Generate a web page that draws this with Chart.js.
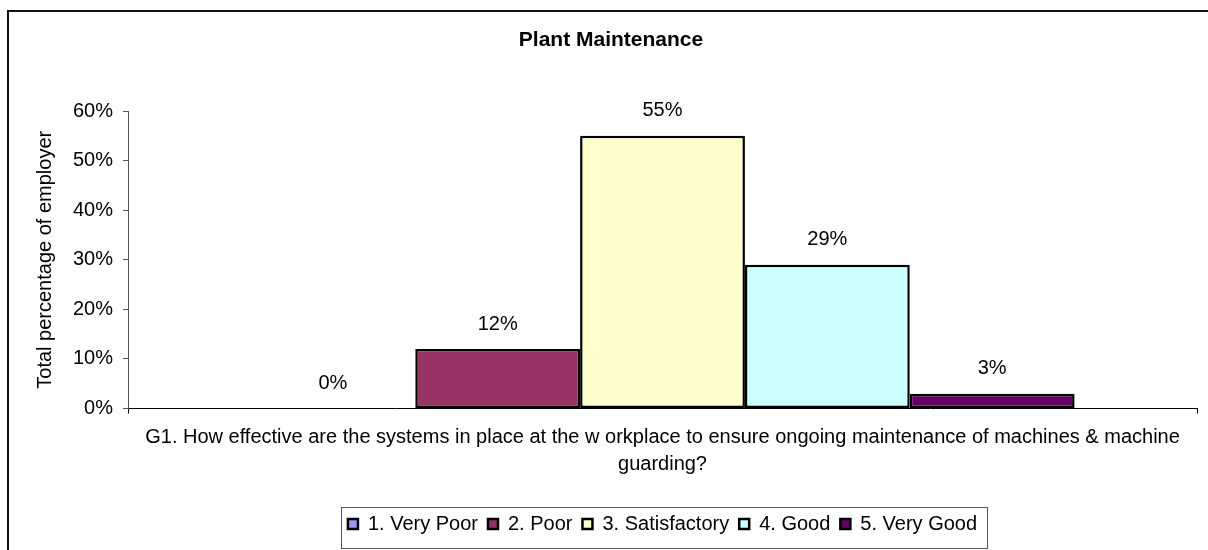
<!DOCTYPE html>
<html>
<head>
<meta charset="utf-8">
<script src="https://cdn.jsdelivr.net/npm/chart.js@4.4.1/dist/chart.umd.min.js"></script>
<style>
	body { margin: 0; overflow: hidden; background: #fff; }
	#wrap { position: relative; width: 1208px; height: 550px; overflow: hidden; }
	#frame { position: absolute; left: 7px; top: 10px; width: 1400px; height: 700px; border-left: 2px solid #111; border-top: 2px solid #111; }
	#chart { position: absolute; left: 0; top: 0; }
</style>
</head>
<body>
<div id="wrap">
	<div id="frame"></div>
	<canvas id="chart" width="1208" height="550"></canvas>
</div>
<script>
var categories = [
	['G1. How effective are the systems in place at the w orkplace to ensure ongoing maintenance of machines & machine', 'guarding?']
];
var seriesNames = ['1. Very Poor', '2. Poor', '3. Satisfactory', '4. Good', '5. Very Good'];
var seriesValues = [0, 12, 55, 29, 3];
var seriesColors = ['#9999FF', '#993366', '#FFFFCC', '#CCFFFF', '#660066'];
var yTicks = [0, 10, 20, 30, 40, 50, 60];

var font = 'Liberation Sans, Arial, sans-serif';
Chart.defaults.font.family = font;
Chart.defaults.color = '#000';

var datasets = seriesNames.map(function (name, i) {
	return {
		label: name,
		data: [seriesValues[i]],
		backgroundColor: seriesColors[i],
		borderColor: '#000',
		borderWidth: 2.5,
		borderSkipped: false
	};
});

// value labels above each bar
var barLabels = {
	id: 'barLabels',
	afterDatasetsDraw: function (chart) {
		var ctx = chart.ctx;
		ctx.save();
		ctx.font = '20px ' + font;
		ctx.fillStyle = '#000';
		ctx.textAlign = 'center';
		ctx.textBaseline = 'middle';
		chart.data.datasets.forEach(function (ds, i) {
			var bar = chart.getDatasetMeta(i).data[0];
			ctx.fillText(ds.data[0] + '%', bar.x, bar.y - 25);
		});
		ctx.restore();
	}
};

// thin box round the legend
var legendBox = {
	id: 'legendBox',
	afterDraw: function (chart) {
		var boxes = chart.legend.legendHitBoxes;
		if (!boxes || !boxes.length) return;
		var left = boxes[0].left - 7;
		var last = boxes[boxes.length - 1];
		var right = last.left + last.width + 10;
		var top = 507, bottom = 548;
		var ctx = chart.ctx;
		ctx.save();
		ctx.strokeStyle = '#555';
		ctx.lineWidth = 1;
		ctx.strokeRect(Math.round(left) + 0.5, top + 0.5, Math.round(right - left), bottom - top);
		ctx.restore();
	}
};

var chart = new Chart(document.getElementById('chart'), {
	type: 'bar',
	data: {
		labels: categories,
		datasets: datasets
	},
	options: {
		responsive: false,
		animation: false,
		layout: { padding: { left: 25, right: 11, top: 0, bottom: 6 } },
		datasets: {
			bar: { categoryPercentage: 0.771, barPercentage: 1 }
		},
		plugins: {
			title: {
				display: true,
				text: 'Plant Maintenance',
				font: { size: 21, weight: 'bold' },
				padding: { top: 27.4, bottom: 58.4 }
			},
			legend: {
				position: 'bottom',
				fullSize: false,
				labels: {
					boxWidth: 10,
					boxHeight: 10,
					padding: 10,
					font: { size: 20 }
				}
			},
			tooltip: { enabled: false }
		},
		scales: {
			x: {
				grid: { display: true, drawOnChartArea: false, offset: true, tickLength: 5, color: '#000' },
				border: { color: '#000', width: 1 },
				ticks: {
					font: { size: 20, lineHeight: 1.35 },
					padding: 10.5,
					maxRotation: 0,
					minRotation: 0,
					autoSkip: false
				},
				afterFit: function (scale) { scale.height += 15.5; }
			},
			y: {
				min: 0,
				max: 60,
				afterBuildTicks: function (scale) {
					scale.ticks = yTicks.map(function (v) { return { value: v }; });
				},
				grid: { display: true, drawOnChartArea: false, tickLength: 5, color: '#555' },
				border: { color: '#555', width: 1 },
				ticks: {
					font: { size: 20 },
					padding: 10,
					callback: function (v) { return v + '%'; }
				},
				title: {
					display: true,
					text: 'Total percentage of employer',
					font: { size: 20 },
					padding: { top: 8, bottom: 6 }
				}
			}
		}
	},
	plugins: [barLabels, legendBox]
});
</script>
</body>
</html>
